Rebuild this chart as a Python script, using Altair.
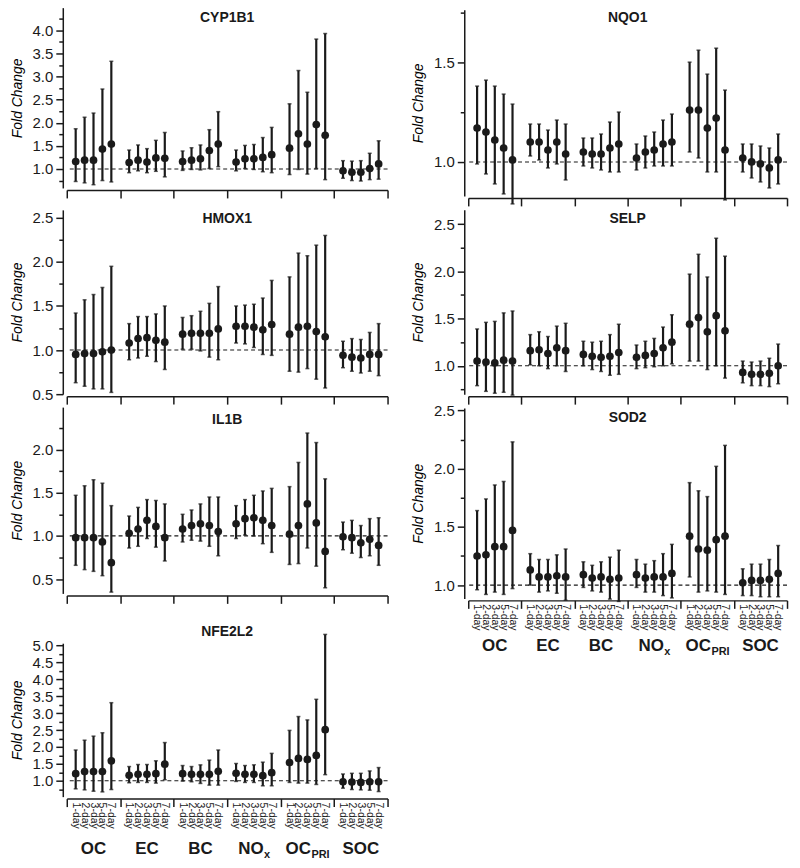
import math
import altair as alt
import pandas as pd

FONT = "Liberation Sans"
INK = "#1a1a1a"

groups = ["OC", "EC", "BC", "NOx", "OCPRI", "SOC"]
group_main = ["OC", "EC", "BC", "NO", "OC", "SOC"]
group_sub = ["", "", "", "x", "PRI", ""]
lags = ["1-day", "2-day", "3-day", "5-day", "7-day"]

# ---- values, in group order OC, EC, BC, NOx, OCPRI, SOC (5 lags each)
cyp1b1_est = [1.16, 1.19, 1.19, 1.43, 1.54, 1.14, 1.19, 1.15, 1.24, 1.23, 1.16, 1.19, 1.22, 1.40, 1.54,
              1.15, 1.22, 1.22, 1.25, 1.31, 1.45, 1.76, 1.54, 1.96, 1.73, 0.96, 0.93, 0.93, 1.01, 1.11]
cyp1b1_lo = [0.73, 0.70, 0.66, 0.75, 0.72, 0.92, 0.96, 0.92, 0.95, 0.83, 0.97, 0.99, 0.98, 1.01, 1.05,
             0.96, 1.01, 0.99, 0.94, 0.92, 0.88, 0.99, 0.89, 1.01, 0.77, 0.80, 0.75, 0.74, 0.77, 0.78]
cyp1b1_hi = [1.87, 2.12, 2.21, 2.73, 3.33, 1.41, 1.52, 1.44, 1.62, 1.79, 1.39, 1.46, 1.52, 1.85, 2.24,
             1.41, 1.51, 1.53, 1.68, 1.90, 2.41, 3.13, 2.66, 3.81, 3.93, 1.18, 1.17, 1.18, 1.34, 1.61]

hmox1_est = [0.95, 0.96, 0.96, 0.98, 1.00, 1.08, 1.13, 1.14, 1.11, 1.09, 1.18, 1.19, 1.19, 1.19, 1.24,
             1.27, 1.27, 1.26, 1.23, 1.29, 1.18, 1.26, 1.27, 1.21, 1.15, 0.94, 0.92, 0.91, 0.95, 0.95]
hmox1_lo = [0.63, 0.59, 0.56, 0.56, 0.52, 0.89, 0.91, 0.93, 0.87, 0.78, 1.01, 1.01, 0.99, 0.92, 0.89,
            1.08, 1.07, 1.03, 0.95, 0.94, 0.76, 0.75, 0.79, 0.67, 0.57, 0.80, 0.76, 0.74, 0.76, 0.71]
hmox1_hi = [1.42, 1.57, 1.63, 1.71, 1.95, 1.30, 1.38, 1.38, 1.41, 1.50, 1.37, 1.39, 1.44, 1.53, 1.72,
            1.50, 1.51, 1.52, 1.59, 1.79, 1.83, 2.10, 2.07, 2.19, 2.30, 1.10, 1.13, 1.12, 1.20, 1.30]

il1b_est = [0.98, 0.98, 0.98, 0.93, 0.69, 1.03, 1.08, 1.18, 1.11, 0.98, 1.08, 1.12, 1.14, 1.12, 1.05,
            1.14, 1.20, 1.21, 1.18, 1.12, 1.02, 1.12, 1.37, 1.15, 0.82, 0.99, 0.98, 0.92, 0.96, 0.89]
il1b_lo = [0.66, 0.61, 0.59, 0.54, 0.35, 0.86, 0.88, 0.97, 0.87, 0.71, 0.93, 0.95, 0.94, 0.88, 0.77,
           0.97, 1.01, 1.00, 0.91, 0.81, 0.67, 0.68, 0.86, 0.65, 0.40, 0.84, 0.80, 0.75, 0.77, 0.66]
il1b_hi = [1.47, 1.58, 1.65, 1.61, 1.35, 1.23, 1.33, 1.42, 1.41, 1.37, 1.25, 1.30, 1.37, 1.45, 1.45,
           1.35, 1.42, 1.47, 1.52, 1.55, 1.57, 1.85, 2.19, 2.08, 1.66, 1.16, 1.18, 1.12, 1.20, 1.21]

nfe2l2_est = [1.21, 1.27, 1.27, 1.27, 1.59, 1.16, 1.19, 1.19, 1.21, 1.49, 1.21, 1.19, 1.19, 1.19, 1.28,
              1.22, 1.19, 1.19, 1.15, 1.24, 1.54, 1.66, 1.63, 1.75, 2.51, 0.97, 0.96, 0.95, 0.97, 0.97]
nfe2l2_lo = [0.76, 0.73, 0.69, 0.67, 0.74, 0.94, 0.95, 0.95, 0.93, 1.03, 0.99, 0.97, 0.92, 0.87, 0.87,
             0.98, 0.95, 0.95, 0.85, 0.85, 0.95, 0.93, 0.93, 0.89, 1.18, 0.78, 0.74, 0.73, 0.72, 0.68]
nfe2l2_hi = [1.91, 2.20, 2.32, 2.42, 3.31, 1.42, 1.48, 1.48, 1.59, 2.13, 1.45, 1.42, 1.47, 1.61, 1.91,
             1.51, 1.45, 1.47, 1.55, 1.81, 2.49, 2.90, 2.80, 3.41, 5.33, 1.20, 1.22, 1.22, 1.29, 1.39]

nqo1_est = [1.17, 1.15, 1.11, 1.07, 1.01, 1.10, 1.10, 1.06, 1.10, 1.04, 1.05, 1.04, 1.04, 1.07, 1.09,
            1.02, 1.05, 1.06, 1.09, 1.10, 1.26, 1.26, 1.17, 1.22, 1.06, 1.02, 1.00, 0.99, 0.97, 1.01]
nqo1_lo = [0.99, 0.94, 0.89, 0.84, 0.79, 1.03, 1.01, 0.97, 0.99, 0.91, 0.98, 0.97, 0.96, 0.95, 0.95,
           0.96, 0.97, 0.98, 0.98, 0.98, 1.05, 1.02, 0.95, 0.95, 0.81, 0.95, 0.92, 0.90, 0.87, 0.89]
nqo1_hi = [1.38, 1.41, 1.38, 1.34, 1.29, 1.19, 1.19, 1.16, 1.21, 1.19, 1.12, 1.12, 1.14, 1.20, 1.25,
           1.09, 1.13, 1.15, 1.21, 1.24, 1.50, 1.56, 1.44, 1.57, 1.36, 1.09, 1.09, 1.08, 1.07, 1.14]

selp_est = [1.05, 1.04, 1.03, 1.06, 1.05, 1.16, 1.17, 1.13, 1.19, 1.16, 1.12, 1.10, 1.09, 1.10, 1.14,
            1.09, 1.11, 1.13, 1.19, 1.25, 1.44, 1.51, 1.36, 1.53, 1.37, 0.93, 0.91, 0.91, 0.92, 1.00]
selp_lo = [0.79, 0.73, 0.71, 0.72, 0.69, 1.01, 1.00, 0.97, 1.00, 0.94, 1.00, 0.96, 0.94, 0.90, 0.91,
           0.97, 0.98, 0.99, 1.00, 1.02, 1.05, 1.05, 0.96, 1.00, 0.87, 0.82, 0.79, 0.79, 0.78, 0.81]
selp_hi = [1.39, 1.46, 1.47, 1.56, 1.58, 1.33, 1.36, 1.31, 1.42, 1.45, 1.26, 1.25, 1.26, 1.33, 1.44,
           1.22, 1.26, 1.29, 1.41, 1.54, 1.97, 2.18, 1.94, 2.35, 2.16, 1.05, 1.04, 1.05, 1.08, 1.23]

sod2_est = [1.25, 1.26, 1.33, 1.33, 1.47, 1.13, 1.07, 1.07, 1.08, 1.07, 1.09, 1.06, 1.07, 1.05, 1.06,
            1.09, 1.06, 1.07, 1.07, 1.10, 1.42, 1.31, 1.30, 1.39, 1.42, 1.02, 1.04, 1.04, 1.05, 1.10]
sod2_lo = [0.96, 0.92, 0.94, 0.92, 0.97, 1.00, 0.94, 0.95, 0.93, 0.87, 0.98, 0.95, 0.94, 0.88, 0.86,
           0.98, 0.94, 0.94, 0.91, 0.89, 1.07, 0.94, 0.95, 0.94, 0.92, 0.91, 0.91, 0.90, 0.90, 0.90]
sod2_hi = [1.64, 1.74, 1.86, 1.89, 2.23, 1.27, 1.22, 1.22, 1.26, 1.31, 1.20, 1.17, 1.20, 1.24, 1.30,
           1.22, 1.18, 1.21, 1.27, 1.35, 1.88, 1.81, 1.76, 2.02, 2.20, 1.14, 1.18, 1.18, 1.22, 1.34]

genes = {
    "CYP1B1": (cyp1b1_est, cyp1b1_lo, cyp1b1_hi),
    "HMOX1": (hmox1_est, hmox1_lo, hmox1_hi),
    "IL1B": (il1b_est, il1b_lo, il1b_hi),
    "NFE2L2": (nfe2l2_est, nfe2l2_lo, nfe2l2_hi),
    "NQO1": (nqo1_est, nqo1_lo, nqo1_hi),
    "SELP": (selp_est, selp_lo, selp_hi),
    "SOD2": (sod2_est, sod2_lo, sod2_hi),
}

# panel layout: y-domain, panel height, top gap inside panel, title baseline, bottom-label offset
layout = {
    "CYP1B1": dict(d=(0.59, 4.49), H=181, ext=0, t=14.7, w=322),
    "NQO1": dict(d=(0.83, 1.763), H=189, ext=2, t=14.7, w=320),
    "HMOX1": dict(d=(0.5, 2.59), H=186, ext=1, t=13.7, w=322),
    "SELP": dict(d=(0.70, 2.65), H=186, ext=1, t=13.7, w=320),
    "IL1B": dict(d=(0.335, 2.49), H=187, ext=0, t=17.0, w=322),
    "SOD2": dict(d=(0.886, 2.52), H=192, ext=1, t=15.3, w=320, lab=53),
    "NFE2L2": dict(d=(0.53, 5.07), H=186, ext=32, t=24.3, w=322, lab=58),
}
order = ["CYP1B1", "NQO1", "HMOX1", "SELP", "IL1B", "SOD2", "NFE2L2"]

NG, NL = len(groups), len(lags)
SLOT = NL + 1
XMAX = NG * SLOT

BOLD_W = {"N": 0.722, "O": 0.778, "C": 0.722, "x": 0.556, "P": 0.667, "R": 0.722, "I": 0.278}


def text_w(s, size):
    return sum(BOLD_W.get(ch, 0.6) for ch in s) * size


def xenc():
    return alt.X(
        "x:Q",
        scale=alt.Scale(domain=[0, XMAX], nice=False, zero=False),
        axis=alt.Axis(values=[g * SLOT for g in range(NG + 1)], labels=False, tickSize=8,
                      offset=2, title=None, grid=False, domainColor=INK, tickColor=INK,
                      domainWidth=1.5, tickWidth=1.5),
    )


def yenc(field, spec):
    d0, d1 = spec["d"]
    ticks = [k / 4 for k in range(math.ceil(d0 * 4), math.floor(d1 * 4) + 1)]
    major = "abs(datum.value*2 - round(datum.value*2)) < 0.001"
    return alt.Y(
        field,
        type="quantitative",
        scale=alt.Scale(domain=[d0, d1], range=[spec["H"], spec["ext"]], nice=False, zero=False),
        axis=alt.Axis(
            values=ticks,
            labelExpr=f"{major} ? format(datum.value, '.1f') : ''",
            labelFontSize={"condition": {"test": major, "value": 15}, "value": 1},
            tickSize={"condition": {"test": major, "value": 7}, "value": 4},
            labelOverlap=False,
            offset=4,
            grid=False,
            title="Fold Change",
            titleFontStyle="italic",
            titleFontWeight="normal",
            titleFontSize=14,
            titleFont=FONT,
            titlePadding=8,
            labelFont=FONT,
            labelColor=INK,
            labelPadding=3,
            domainColor=INK,
            domainWidth=1.5,
            tickColor=INK,
            tickWidth=1.5,
        ),
    )


def panel(name):
    spec = layout[name]
    est, lo, hi = genes[name]
    rows = []
    for g in range(NG):
        for i in range(NL):
            k = g * NL + i
            rows.append(dict(x=g * SLOT + i + 1, group=groups[g], lag=lags[i],
                             est=est[k], lo=lo[k], hi=hi[k]))
    df = pd.DataFrame(rows)

    ref = alt.Chart(pd.DataFrame({"ref": [1.0]})).mark_rule(
        strokeDash=[4, 3], color=INK, strokeWidth=1.1
    ).encode(y=yenc("ref", spec))

    bars = alt.Chart(df).mark_errorbar(
        ticks={"size": 4, "thickness": 1.5, "color": INK}, thickness=2.2, color=INK
    ).encode(x=xenc(), y=yenc("lo", spec), y2="hi:Q")

    pts = alt.Chart(df).mark_circle(size=60, color=INK, opacity=1).encode(
        x=xenc(), y=yenc("est", spec)
    )

    title = alt.Chart(pd.DataFrame({"gene": [name]})).mark_text(
        align="center", baseline="alphabetic", fontSize=14, fontWeight="bold",
        font=FONT, color=INK
    ).encode(x=alt.value(spec["w"] / 2), y=alt.value(spec["t"]), text="gene:N")

    layers = [ref, bars, pts, title]

    if "lab" in spec:
        H = spec["H"]
        lagdf = df[["x", "lag"]]
        layers.append(
            alt.Chart(lagdf).mark_text(angle=90, align="left", baseline="middle", fontSize=10.5,
                                       font=FONT, color=INK)
            .encode(x=xenc(), y=alt.value(H + 6), text="lag:N")
        )
        gdf = pd.DataFrame({"x": [g * SLOT + SLOT / 2 for g in range(NG)],
                            "main": group_main, "sub": group_sub})
        plain = gdf[gdf["sub"] == ""]
        layers.append(
            alt.Chart(plain).mark_text(align="center", baseline="alphabetic", fontSize=17,
                                       fontWeight="bold", font=FONT, color=INK)
            .encode(x=xenc(), y=alt.value(H + spec["lab"]), text="main:N")
        )
        for _, r in gdf[gdf["sub"] != ""].iterrows():
            one = pd.DataFrame([r])
            shift = (text_w(r["main"], 17) - text_w(r["sub"], 11)) / 2
            layers.append(
                alt.Chart(one).mark_text(align="right", baseline="alphabetic", fontSize=17,
                                         fontWeight="bold", font=FONT, color=INK, dx=shift)
                .encode(x=xenc(), y=alt.value(H + spec["lab"]), text="main:N")
            )
            layers.append(
                alt.Chart(one).mark_text(align="left", baseline="alphabetic", fontSize=11,
                                         fontWeight="bold", font=FONT, color=INK,
                                         dx=shift + 0.5, dy=4)
                .encode(x=xenc(), y=alt.value(H + spec["lab"]), text="sub:N")
            )

    return alt.layer(*layers).properties(width=spec["w"], height=spec["H"])


chart = alt.concat(
    *[panel(n) for n in order],
    columns=2,
    spacing={"row": 13, "column": 81},
    bounds="flush",
).properties(
    padding={"left": 2, "top": -2, "right": 4, "bottom": 4}
).configure_view(stroke=None)

chart.save("out.html", embed_options={"renderer": "svg", "actions": False})
